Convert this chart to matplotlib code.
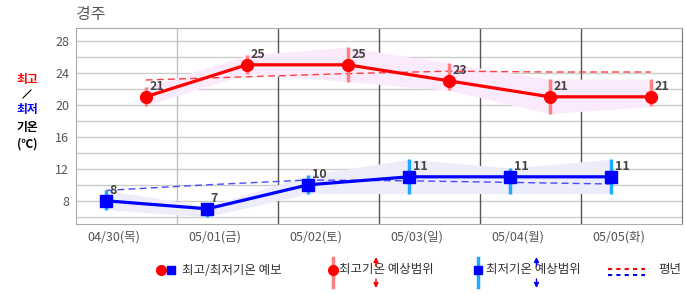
import numpy as np
import matplotlib
matplotlib.use("Agg")
import matplotlib.pyplot as plt

plt.rcParams['font.family'] = ['Noto Sans CJK KR', 'DejaVu Sans']

# data
dates = ["04/30(목)", "05/01(금)", "05/02(토)", "05/03(일)", "05/04(월)", "05/05(화)"]
maxTemp = [21, 25, 25, 23, 21, 21]
maxLow = [19.9, 23.9, 22.9, 21.8, 18.9, 19.8]
maxHigh = [22.2, 26.2, 27.2, 25.2, 23.2, 23.2]
maxNormal = [23.1, 23.5, 23.9, 24.2, 24.1, 24.1]
minTemp = [8, 7, 10, 11, 11, 11]
minLow = [6.9, 6.0, 8.9, 8.9, 8.9, 8.9]
minHigh = [9.3, 7.3, 11.2, 13.2, 12.1, 13.2]
minNormal = [9.3, 10.0, 10.6, 10.5, 10.3, 10.1]
yTicks = [8, 12, 16, 20, 24, 28]

# x positions: min temp in the morning, max temp in the afternoon of each day
day = np.arange(len(dates))
xMin = day + 0.3
xMax = day + 0.69

W, H = 686, 295
fig = plt.figure(figsize=(W / 100, H / 100), dpi=100)
ax = fig.add_axes([76 / W, 1 - 224 / H, (682 - 76) / W, (224 - 28) / H])
ax.set_xlim(0, 6)
ax.set_ylim(5.1, 29.6)

# grid
for v in np.arange(6, 29, 2):
    ax.axhline(v, color="#cccccc", lw=1, zorder=0)
ax.axvline(1, color="#c0c0c0", lw=1, zorder=0)
for v in range(2, 6):
    ax.axvline(v, color="#555555", lw=1, zorder=0)
for s in ["left", "bottom", "top"]:
    ax.spines[s].set_color("#aaaaaa")
ax.spines["right"].set_color("#777777")

# bands
ax.fill_between(xMax, maxLow, maxHigh, color="#fbe9fc", lw=0, zorder=1)
ax.fill_between(xMin, minLow, minHigh, color="#ececfb", lw=0, zorder=1)

# normals
ax.plot(xMax, maxNormal, color="#ff4040", lw=1, dashes=(5, 3), zorder=2)
ax.plot(xMin, minNormal, color="#4a4aff", lw=1, dashes=(5, 3), zorder=2)

# range bars
ax.vlines(xMax, maxLow, maxHigh, color="#ff8080", lw=2.5, zorder=3)
ax.vlines(xMin, minLow, minHigh, color="#1eaaff", lw=2.5, zorder=3)

# forecast lines
ax.plot(xMax, maxTemp, color="red", lw=2.3, marker="o", ms=8.5, zorder=4)
ax.plot(xMin, minTemp, color="blue", lw=2.3, marker="s", ms=8, zorder=4)

for x, v in zip(xMax, maxTemp):
    ax.annotate(str(v), (x, v), xytext=(2.5, 3), textcoords="offset points",
                ha="left", va="bottom", fontsize=9, fontweight="bold", color="#444444", zorder=5)
for x, v in zip(xMin, minTemp):
    ax.annotate(str(v), (x, v), xytext=(2.5, 3), textcoords="offset points",
                ha="left", va="bottom", fontsize=9, fontweight="bold", color="#444444", zorder=5)

ax.set_yticks(yTicks)
ax.set_xticks(day + 0.37)
ax.set_xticklabels(dates)
ax.tick_params(length=0, labelsize=9, labelcolor="#555555")
ax.tick_params(axis="y", pad=5)
ax.tick_params(axis="x", pad=5)

# overlay in pixel coords for title, side label and legend
ov = fig.add_axes([0, 0, 1, 1])
ov.set_xlim(0, W)
ov.set_ylim(H, 0)
ov.set_axis_off()

ov.text(76, 15, "경주", fontsize=11.5, color="#555555", va="center", ha="left")
ov.text(27, 80, "최고", color="red", fontsize=8.5, fontweight="bold", ha="center", va="center")
ov.plot([23, 31], [98, 90], color="black", lw=0.8)
ov.text(27, 109, "최저", color="blue", fontsize=8.5, fontweight="bold", ha="center", va="center")
ov.text(27, 127, "기온", color="black", fontsize=8.5, fontweight="bold", ha="center", va="center")
ov.text(27, 144, "(℃)", color="black", fontsize=8.5, fontweight="bold", ha="center", va="center")

ly = 270
arrow = dict(arrowstyle="-|>", lw=1, mutation_scale=7, shrinkA=0, shrinkB=0)
# item 1
ov.plot([160.5], [ly], marker="o", color="red", ms=7, ls="none")
ov.plot([171], [ly], marker="s", color="blue", ms=6, ls="none")
ov.text(182, ly, "최고/최저기온 예보", fontsize=9, color="#333333", va="center")
# item 2
ov.plot([332.5, 332.5], [258, 287], color="#ff8080", lw=2.5)
ov.plot([332.5], [ly], marker="o", color="red", ms=7, ls="none")
ov.text(339, ly, "최고기온 예상범위", fontsize=9, color="#333333", va="center")
ov.annotate("", xy=(376, 257), xytext=(376, 266), arrowprops=dict(arrow, color="red"))
ov.annotate("", xy=(376, 288), xytext=(376, 279), arrowprops=dict(arrow, color="red"))
# item 3
ov.plot([478, 478], [258, 287], color="#1eaaff", lw=2.5)
ov.plot([478], [ly], marker="s", color="blue", ms=6, ls="none")
ov.text(486, ly, "최저기온 예상범위", fontsize=9, color="#333333", va="center")
ov.annotate("", xy=(536.5, 257), xytext=(536.5, 266), arrowprops=dict(arrow, color="blue"))
ov.annotate("", xy=(536.5, 288), xytext=(536.5, 279), arrowprops=dict(arrow, color="blue"))
# item 4
ov.plot([608, 645], [269, 269], color="red", lw=1.5, dashes=(2, 2))
ov.plot([608, 645], [275, 275], color="blue", lw=1.5, dashes=(2, 2))
ov.text(658, ly, "평년", fontsize=9, color="#333333", va="center")

fig.savefig("out.png", dpi=100)
